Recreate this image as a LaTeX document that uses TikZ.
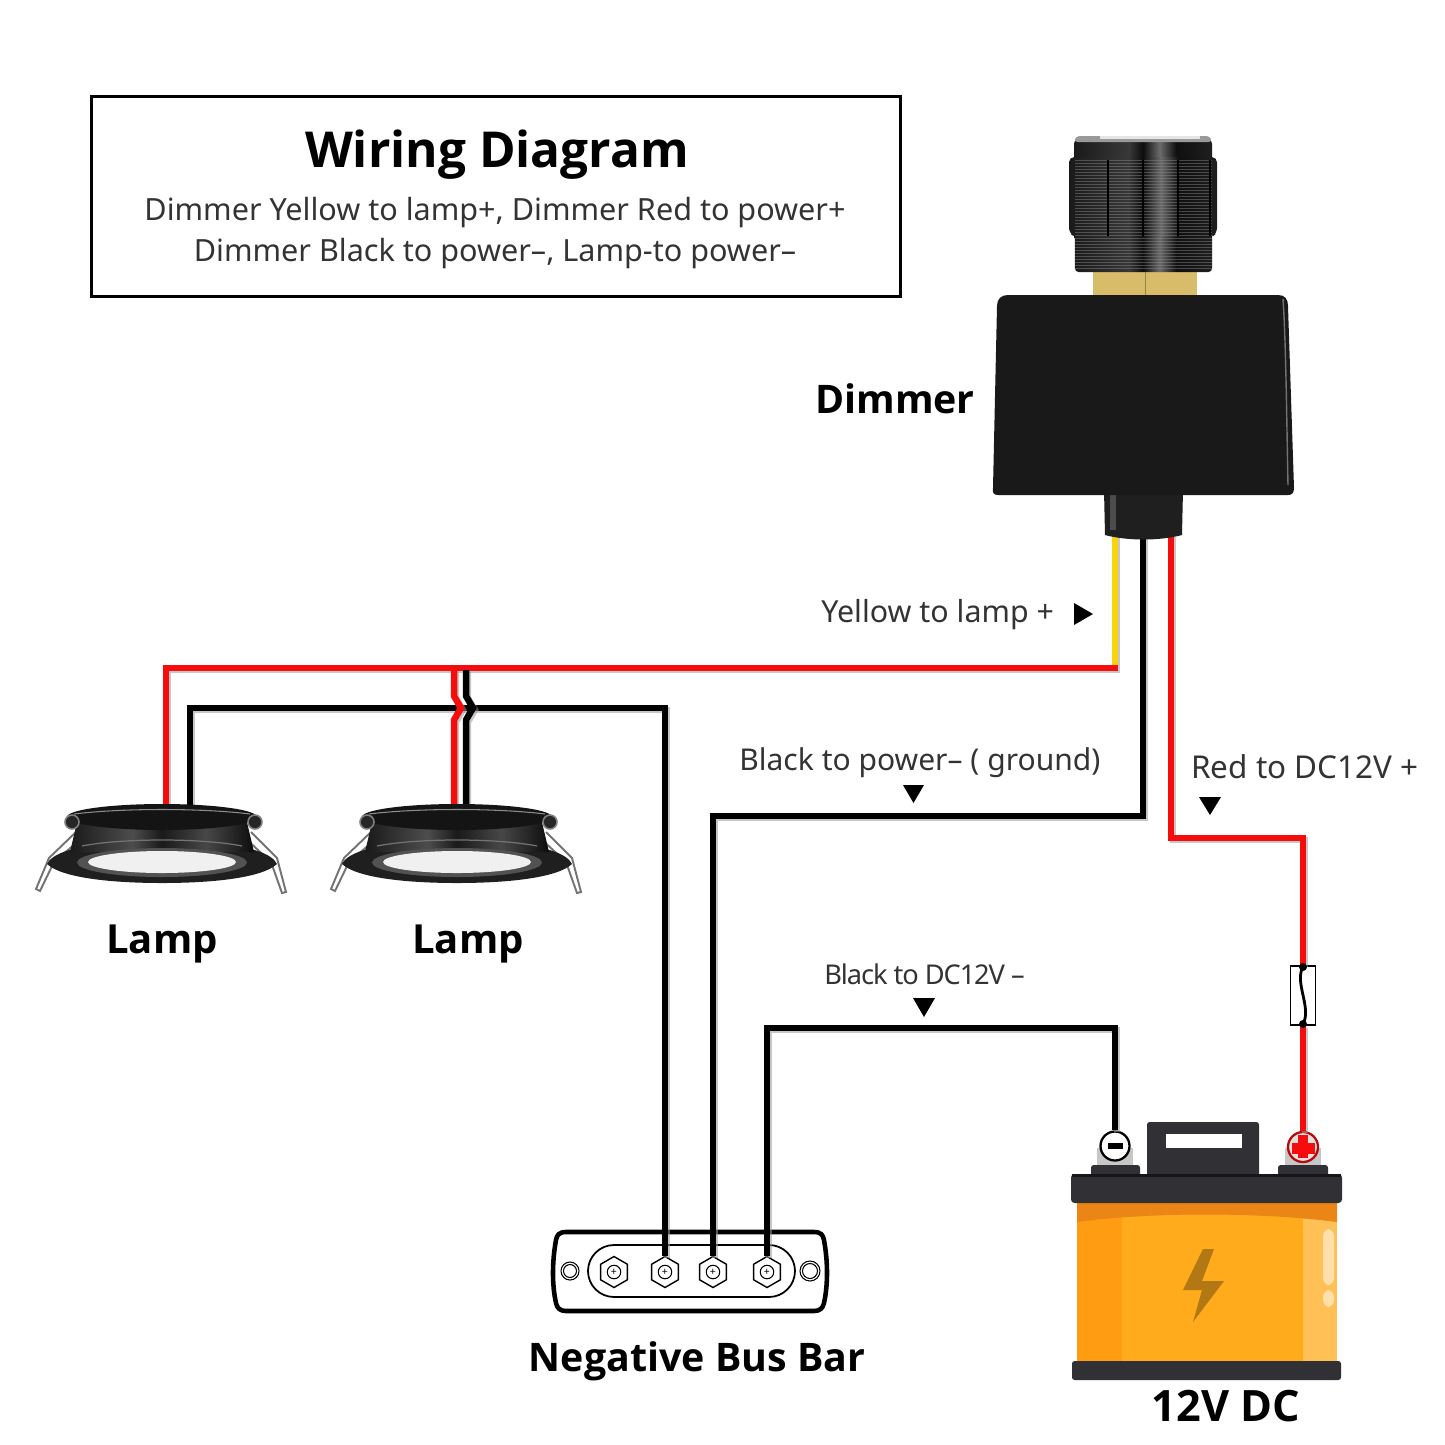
\documentclass[tikz,border=0pt]{standalone}
\usepackage{fontspec}
\setmainfont{Noto Sans}
\newfontfamily\headfont{Open Sans}
\usetikzlibrary{positioning, shapes.geometric}
\definecolor{wirered}{HTML}{F50D0D}
\definecolor{wireyellow}{HTML}{F8D40C}
\definecolor{batdark}{HTML}{313135}
\definecolor{batorange}{HTML}{FFAB1C}
\definecolor{batleft}{HTML}{FF9C12}
\definecolor{brass}{HTML}{D8BC6A}
\definecolor{txtdark}{HTML}{333333}
\pgfdeclarehorizontalshading{knobshade}{100bp}{color(0bp)=(black!92); color(25bp)=(black!90); color(45bp)=(black!78); color(50bp)=(black!95); color(56bp)=(black!58); color(62bp)=(black!94); color(75bp)=(black!88); color(100bp)=(black!88)}
\pgfdeclarehorizontalshading{lampshade}{100bp}{color(0bp)=(black!90); color(25bp)=(black!90); color(42bp)=(black!70); color(50bp)=(black!90); color(62bp)=(black!72); color(75bp)=(black!95); color(100bp)=(black!95)}
\tikzset{
  wire/.style={line width=3.7pt, preaction={draw=black!40, opacity=.55, line width=3.7pt, transform canvas={shift={(1.1pt,-1.1pt)}}}},
  redwire/.style={wire, draw=wirered},
  blackwire/.style={wire, draw=black},
  yellowwire/.style={wire, draw=wireyellow},
  pointer/.style={fill=black},
  boldlabel/.style={font=\headfont\fontsize{22.4}{26}\bfseries\selectfont, text=black, inner sep=0pt, anchor=base},
  wirelabel/.style={font=\fontsize{17.3}{20}\selectfont, text=txtdark, inner sep=0pt, anchor=base west},
  hexterm/.style={regular polygon, regular polygon sides=6, shape border rotate=30, draw=black, line width=.8pt, fill=white, minimum size=.62cm, inner sep=0pt},
  screwhead/.style={circle, draw=black, line width=.6pt, fill=white, minimum size=.27cm, inner sep=0pt, font=\fontsize{6}{6}\selectfont},
  battop/.style={fill=batdark, rounded corners=1.5pt}
}
\begin{document}
\begin{tikzpicture}[x=0.02cm, y=-0.02cm]
        \useasboundingbox (0,0) rectangle (1445,1445);
        \node [draw=black, line width=1.7pt, minimum width=16.2cm, minimum height=4.02cm, inner sep=0pt] (titlebox) at (496,196.5) {};
        \node [font=\headfont\fontsize{28.2}{30}\bfseries\selectfont, text=black, inner sep=0pt, anchor=base] (title) at (497,167) {Wiring Diagram};
        \node [wirelabel, anchor=base, font=\fontsize{17.4}{20}\selectfont] (descone) at (495,220) {Dimmer Yellow to lamp+, Dimmer Red to power+};
        \node [wirelabel, anchor=base, font=\fontsize{17.4}{20}\selectfont] (desctwo) at (495,261) {Dimmer Black to power–, Lamp-to power–};

        \fill [black!22] (1097,1148) rectangle (1133,1165);
        \fill [black!22] (1285,1148) rectangle (1321,1165);
        \fill [battop] (1091,1165) rectangle (1140,1180);
        \fill [battop] (1278,1165) rectangle (1328,1180);
        \fill [battop] (1147,1122) rectangle (1259,1180);
        \fill [white] (1166,1134) rectangle (1242,1148);
        \fill [batorange] (1077,1200) rectangle (1337,1362);
        \fill [batleft] (1077,1200) rectangle (1122,1362);
        \fill [batorange!75!white] (1303,1200) rectangle (1337,1362);
        \fill [batorange!85!red!92!black] (1077,1203) -- (1337,1203) -- (1337,1222) .. controls (1260,1212) and (1150,1212) .. (1077,1222) -- cycle;
        \fill [batdark, rounded corners=2pt] (1071,1174) rectangle (1342,1203);
        \fill [black!55!batdark] (1072,1174) rectangle (1341,1177);
        \fill [batdark, rounded corners=1.5pt] (1072,1361) -- (1072,1380) -- (1341,1380) -- (1341,1361) -- cycle;
        \fill [white, opacity=.5, rounded corners=4pt] (1323,1229) rectangle (1334,1285);
        \fill [white, opacity=.5, rounded corners=4pt] (1323,1290) rectangle (1334,1307);
        \fill [batorange!70!black] (1203,1249) -- (1214,1249) -- (1202,1281) -- (1224,1281) -- (1193,1322) -- (1202,1290) -- (1183,1290) -- cycle;

        \draw [line width=2.6pt, draw=black, fill=white] (566,1232) -- (814,1232) .. controls (821,1232) and (823,1235) .. (824,1240) .. controls (828,1262) and (828,1285) .. (824,1303) .. controls (823,1308) and (820,1311) .. (814,1311) -- (566,1311) .. controls (560,1311) and (557,1308) .. (556,1303) .. controls (552,1285) and (552,1262) .. (556,1240) .. controls (557,1235) and (559,1232) .. (566,1232) -- cycle;
        \draw [line width=1pt] (614,1245) -- (769,1245) arc (-90:90:26) -- (614,1297) arc (90:270:26) -- cycle;
        \draw [line width=.6pt, fill=white] (570,1271) circle (9);
        \draw [line width=.6pt] (570,1271) circle (6.5);
        \draw [line width=.6pt, fill=white] (810,1271) circle (10);
        \draw [line width=.6pt] (810,1271) circle (7.5);

        \coordinate (dimYellow) at (1115,535);
        \coordinate (dimBlack) at (1143,535);
        \coordinate (dimRed) at (1171,535);
        \coordinate (yellowBend) at (1118,668);
        \coordinate (lampOneRed) at (166,810);
        \coordinate (lampOneBlack) at (190,810);
        \coordinate (blackRun) at (466,708);
        \coordinate (powerRun) at (913,816);
        \coordinate (negRun) at (924,1028);
        \coordinate (redRun) at (1210,838);

        \node [hexterm] (busOne) at (614,1272) {};
        \node [hexterm] (busTwo) at (665,1272) {};
        \node [hexterm] (busThree) at (713,1272) {};
        \node [hexterm] (busFour) at (767,1272) {};
        \node [screwhead] (screwOne) at (614,1272) {+};
        \node [screwhead] (screwTwo) at (665,1272) {+};
        \node [screwhead] (screwThree) at (713,1272) {+};
        \node [screwhead] (screwFour) at (767,1272) {+};
        \node [draw=black, line width=1.1pt, fill=white, minimum width=.5cm, minimum height=1.18cm, inner sep=0pt] (fuse) at (1303,995.5) {};
        \node [circle, draw=black, line width=1.3pt, fill=white, minimum size=.58cm, inner sep=0pt] (batNeg) at (1115,1146) {};
        \node [circle, draw=wirered!75!black, line width=1.3pt, fill=black!12, minimum size=.6cm, inner sep=0pt] (batPos) at (1303,1147) {};
        \fill [black] (1108,1143) rectangle (1123,1149);
        \fill [wirered] (1292,1143) rectangle (1315,1154);
        \fill [wirered] (1298,1135) rectangle (1308,1158);

        \draw [yellowwire] (dimYellow) -- (1115,665);
        \draw [redwire] (yellowBend) -| (lampOneRed);
        \draw [blackwire] (lampOneBlack) |- (blackRun) -| (busTwo.north);
        \draw [redwire] (454,670) -- (454,696) -- (461,708) -- (454,720) -- (454,805);
        \draw [blackwire] (466,670) -- (466,696) -- (473,708) -- (466,720) -- (466,805);
        \draw [blackwire] (dimBlack) |- (powerRun) -| (busThree.north);
        \draw [blackwire] (batNeg.north) |- (negRun) -| (busFour.north);
        \draw [redwire] (dimRed) |- (redRun) -| (fuse.north);
        \draw [redwire] (fuse.south) -- (batPos.north);
        \draw [line width=1.6pt] (1303,967) .. controls (1294,982) and (1312,1008) .. (1303,1024);
        \fill (1303,967) circle (4);
        \fill (1303,1024) circle (4);

        \foreach \lampx/\lampname in {162/One,457/Two} {
          \begin{scope}[shift={(\lampx,0)}]
            \draw [black!55, line width=1.1pt, fill=white] (-86,832) -- (-113,858) -- (-126,889) -- (-122,891) -- (-108,862) -- (-80,838);
            \draw [black!55, line width=1.1pt, fill=white] (89,832) -- (115,858) -- (124,892) -- (120,893) -- (109,862) -- (83,838);
            \fill [black!88] (-115,864) .. controls (-110,853) and (-85,846) .. (-60,845) -- (60,845) .. controls (85,846) and (110,853) .. (115,864) .. controls (100,878) and (50,883) .. (0,883) .. controls (-50,883) and (-100,878) .. (-115,864) -- cycle;
            \shade [shading=lampshade] (-84,818) -- (84,818) -- (92,852) -- (-92,852) -- cycle;
            \draw [black!55, line width=.7pt] (-80,846) .. controls (-40,838) and (40,838) .. (80,846);
            \fill [black!92] (0,817) ellipse [x radius=95, y radius=13];
            \draw [black!45, line width=.6pt] (-88,814) .. controls (-40,808) and (40,808) .. (88,814);
            \draw [black!50, line width=.9pt, fill=black!85] (-90,822) circle (7);
            \draw [black!50, line width=.9pt, fill=black!85] (93,822) circle (7);
            \fill [black!68] (0,862.5) ellipse [x radius=85, y radius=14.5];
            \fill [white!94!black] (0,862) ellipse [x radius=74, y radius=11];
            \node [inner sep=0pt] (lamp\lampname) at (0,845) {};
          \end{scope}
        }

        \fill [black!88] (1104,490) -- (1183,490) -- (1182,535) .. controls (1160,541) and (1127,541) .. (1105,535) -- cycle;
        \fill [black!70] (1110,495) rectangle (1116,530);
        \fill [brass] (1093,270) rectangle (1197,296);
        \draw [brass!70!black, line width=.5pt] (1145,272) -- (1145,296);
        \fill [black!90] (1008,295) -- (1278,295) .. controls (1285,295) and (1288,299) .. (1288,306) -- (1294,488) .. controls (1294,493) and (1292,495) .. (1288,495) -- (998,495) .. controls (994,495) and (992,493) .. (993,488) -- (997,306) .. controls (997,299) and (1001,295) .. (1008,295) -- cycle;
        \draw [black!55, line width=.8pt] (1283,299) .. controls (1286,340) and (1287,440) .. (1288,485);
        \shade [shading=knobshade, rounded corners=2pt] (1074,140) -- (1212,140) -- (1212,272) -- (1075,272) -- cycle;
        \shade [shading=knobshade, rounded corners=3pt] (1069,157) -- (1217,157) -- (1217,233) -- (1212,237) -- (1075,237) -- (1069,233) -- cycle;
        \foreach \ribline in {160,163,...,270} {
          \draw [black!45, opacity=.45, line width=.25pt] (1075,\ribline) -- (1212,\ribline);
        }
        \foreach \groove in {1108,1143,1178,1210} {
          \draw [black, line width=1.5pt] (\groove,160) -- (\groove,236);
        }
        \fill [black!40, rounded corners=2pt] (1076,136) -- (1210,136) -- (1212,142) -- (1074,142) -- cycle;
        \fill [white!90!black] (1100,136) rectangle (1200,139);

        \fill [pointer] (1074,603) -- (1093,614) -- (1074,625) -- cycle;
        \fill [pointer] (903,785) -- (924,785) -- (913.5,803) -- cycle;
        \fill [pointer] (1199,797) -- (1221,797) -- (1210,815) -- cycle;
        \fill [pointer] (913,998) -- (935,998) -- (924,1017) -- cycle;

        \node [wirelabel] (yellowLabel) at (821,622) {Yellow to lamp +};
        \node [wirelabel, font=\fontsize{17.1}{20}\selectfont] (blackLabel) at (739,770) {Black to power– ( ground)};
        \node [wirelabel, font=\fontsize{17.9}{20}\selectfont] (redLabel) at (1191,778) {Red to DC12V +};
        \node [wirelabel, font=\fontsize{15.5}{18}\addfontfeature{LetterSpace=-4}] (dcLabel) at (824,984) {Black to DC12V –};
        \node [boldlabel] (dimmerLabel) at (895,413) {Dimmer};
        \node [boldlabel, font=\headfont\fontsize{22.8}{26}\bfseries\selectfont] (lampOneLabel) at (162,953) {Lamp};
        \node [boldlabel, font=\headfont\fontsize{22.8}{26}\bfseries\selectfont] (lampTwoLabel) at (468,953) {Lamp};
        \node [boldlabel] (busLabel) at (697,1371) {Negative Bus Bar};
        \node [boldlabel, font=\headfont\fontsize{24.6}{26}\bfseries\selectfont] (batLabel) at (1226,1421) {12V DC};
\end{tikzpicture}
\end{document}
